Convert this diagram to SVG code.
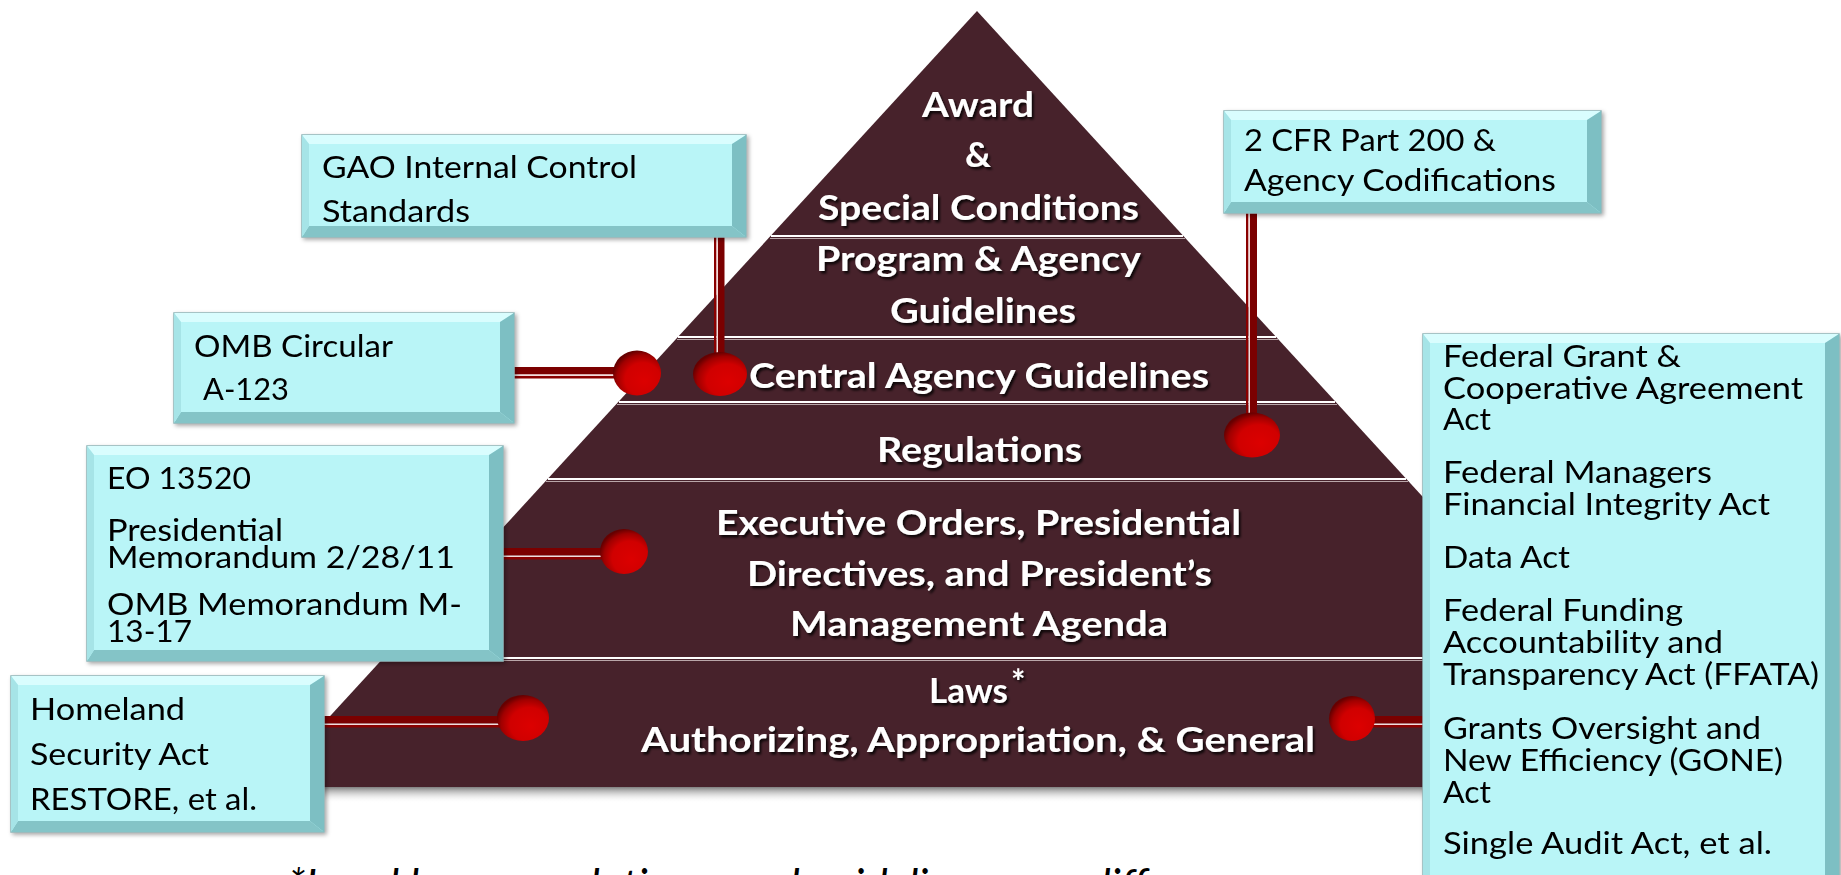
<svg xmlns="http://www.w3.org/2000/svg" width="1841" height="875" viewBox="0 0 1841 875">
<defs>
<style>
.face{fill:#b9f5f7;stroke:#8fb4b6;stroke-width:1.5}
.bt{fill:#d9fdfe}
.bl{fill:#a6e4e7}
.br{fill:#7dbfc3}
.bb{fill:#84c4c7}
.bx{font-family:"Lato","Carlito","DejaVu Sans",sans-serif;font-size:31px;fill:#000}
.py{font-family:"Lato","Carlito","DejaVu Sans",sans-serif;font-weight:bold;font-size:34px;fill:#fff}
.div1{stroke:#ffffff;stroke-width:2.2}
.div2{stroke:#b9a6a9;stroke-width:1}
.thick{fill:#7b0000}
.thin{fill:#8a0000}
.gap{fill:#f3dcdc}
.ball{fill:url(#ballg)}
</style>
<radialGradient id="ballg" cx="0.6" cy="0.62" r="0.62" fx="0.66" fy="0.68">
<stop offset="0" stop-color="#dc0000"/>
<stop offset="0.6" stop-color="#d00000"/>
<stop offset="0.85" stop-color="#a00000"/>
<stop offset="1" stop-color="#660000"/>
</radialGradient>
<linearGradient id="shadowg" x1="0" y1="0" x2="0" y2="1">
<stop offset="0" stop-color="#555" stop-opacity="0.75"/>
<stop offset="1" stop-color="#fff" stop-opacity="0"/>
</linearGradient>
<filter id="tshadow" x="-10%" y="-30%" width="120%" height="160%">
<feDropShadow dx="2" dy="2.5" stdDeviation="1.2" flood-color="#000" flood-opacity="0.8"/>
</filter>
<filter id="bshadow" x="-5%" y="-5%" width="112%" height="115%">
<feDropShadow dx="2" dy="2" stdDeviation="2" flood-color="#000" flood-opacity="0.35"/>
</filter>
</defs>
<rect width="1841" height="875" fill="#ffffff"/>

<g id="pyramid">
<rect x="265" y="787" width="1430" height="16" fill="url(#shadowg)"/>
<polygon points="977,11 1689,787 265,787" fill="#47222b"/>
<line class="div1" x1="771" y1="236" x2="1183" y2="236"/>
<line class="div2" x1="770" y1="238.5" x2="1185" y2="238.5"/>
<line class="div1" x1="678" y1="337" x2="1276" y2="337"/>
<line class="div2" x1="677" y1="339.5" x2="1278" y2="339.5"/>
<line class="div1" x1="619" y1="402" x2="1335" y2="402"/>
<line class="div2" x1="617" y1="404.5" x2="1337" y2="404.5"/>
<line class="div1" x1="548" y1="479" x2="1406" y2="479"/>
<line class="div2" x1="546" y1="481.5" x2="1408" y2="481.5"/>
<line class="div1" x1="384" y1="658" x2="1570" y2="658"/>
<line class="div2" x1="382" y1="660.5" x2="1572" y2="660.5"/>
<g filter="url(#tshadow)">
<g id="level-award">
<text class="py" x="922" y="117" textLength="112" lengthAdjust="spacingAndGlyphs" font-size="35">Award</text>
<text class="py" x="965" y="167" textLength="26" lengthAdjust="spacingAndGlyphs" font-size="35">&amp;</text>
<text class="py" x="818" y="220" textLength="321" lengthAdjust="spacingAndGlyphs" font-size="35">Special Conditions</text>
</g>
<g id="level-program">
<text class="py" x="816" y="271" textLength="325" lengthAdjust="spacingAndGlyphs">Program &amp; Agency</text>
<text class="py" x="890" y="323" textLength="186" lengthAdjust="spacingAndGlyphs">Guidelines</text>
</g>
<g id="level-central">
<text class="py" x="749" y="388" textLength="460" lengthAdjust="spacingAndGlyphs">Central Agency Guidelines</text>
</g>
<g id="level-regulations">
<text class="py" x="877" y="462" textLength="205" lengthAdjust="spacingAndGlyphs">Regulations</text>
</g>
<g id="level-executive">
<text class="py" x="716" y="535" textLength="525" lengthAdjust="spacingAndGlyphs">Executive Orders, Presidential</text>
<text class="py" x="747" y="586" textLength="465" lengthAdjust="spacingAndGlyphs">Directives, and President’s</text>
<text class="py" x="790" y="636" textLength="378" lengthAdjust="spacingAndGlyphs">Management Agenda</text>
</g>
<g id="level-laws">
<text class="py" x="929" y="703" textLength="79" lengthAdjust="spacingAndGlyphs">Laws</text>
<text class="py" x="1011" y="694" font-size="20">*</text>
<text class="py" x="641" y="752" textLength="674" lengthAdjust="spacingAndGlyphs">Authorizing, Appropriation, &amp; General</text>
</g>
</g>
</g>

<g id="connectors">
<rect class="thin" x="714" y="230" width="2.5" height="130"/>
<rect class="gap" x="716.5" y="230" width="1.5" height="130"/>
<rect class="thick" x="718" y="230" width="6.5" height="130"/>
<rect class="thin" x="1246" y="208" width="2.5" height="215"/>
<rect class="gap" x="1248.5" y="208" width="1.5" height="215"/>
<rect class="thick" x="1250" y="208" width="7" height="215"/>
<rect class="thick" x="508" y="367" width="118" height="7.5"/>
<rect class="gap" x="508" y="374.5" width="118" height="1.5"/>
<rect class="thin" x="508" y="376" width="118" height="2.5"/>
<rect class="thick" x="498" y="548" width="115" height="7.5"/>
<rect class="gap" x="498" y="555.5" width="115" height="1.5"/>
<rect class="thin" x="498" y="557" width="115" height="2.5"/>
<rect class="thick" x="318" y="716" width="195" height="7.5"/>
<rect class="gap" x="318" y="723.5" width="195" height="1.5"/>
<rect class="thin" x="318" y="725" width="195" height="2.5"/>
<rect class="thick" x="1365" y="716" width="62" height="7.5"/>
<rect class="gap" x="1365" y="723.5" width="62" height="1.5"/>
<rect class="thin" x="1365" y="725" width="62" height="2.5"/>
<ellipse class="ball" cx="720" cy="374" rx="27" ry="22"/>
<ellipse class="ball" cx="1252" cy="435" rx="28" ry="22.5"/>
<ellipse class="ball" cx="637" cy="373" rx="24" ry="22.5"/>
<ellipse class="ball" cx="624" cy="551.5" rx="24" ry="22.5"/>
<ellipse class="ball" cx="523" cy="718" rx="26" ry="23"/>
<ellipse class="ball" cx="1352" cy="718.5" rx="23" ry="22.5"/>
</g>

<g id="box-gao" filter="url(#bshadow)">
<rect class="face" x="302" y="135" width="444" height="102"/>
<polygon class="bt" points="302,135 746,135 732,144 309,144"/>
<polygon class="br" points="746,135 746,237 732,226 732,144"/>
<polygon class="bb" points="302,237 746,237 732,226 309,226"/>
<polygon class="bl" points="302,135 309,144 309,226 302,237"/>
<text class="bx" x="322" y="178" font-size="35" textLength="315" lengthAdjust="spacingAndGlyphs">GAO Internal Control</text>
<text class="bx" x="322" y="222" font-size="35" textLength="148" lengthAdjust="spacingAndGlyphs">Standards</text>
</g>

<g id="box-cfr" filter="url(#bshadow)">
<rect class="face" x="1224" y="111" width="377" height="102"/>
<polygon class="bt" points="1224,111 1601,111 1587,120 1231,120"/>
<polygon class="br" points="1601,111 1601,213 1587,202 1587,120"/>
<polygon class="bb" points="1224,213 1601,213 1587,202 1231,202"/>
<polygon class="bl" points="1224,111 1231,120 1231,202 1224,213"/>
<text class="bx" x="1244" y="151" textLength="252" lengthAdjust="spacingAndGlyphs">2 CFR Part 200 &amp;</text>
<text class="bx" x="1244" y="191" textLength="312" lengthAdjust="spacingAndGlyphs">Agency Codifications</text>
</g>

<g id="box-omb" filter="url(#bshadow)">
<rect class="face" x="174" y="313" width="340" height="110"/>
<polygon class="bt" points="174,313 514,313 500,322 181,322"/>
<polygon class="br" points="514,313 514,423 500,412 500,322"/>
<polygon class="bb" points="174,423 514,423 500,412 181,412"/>
<polygon class="bl" points="174,313 181,322 181,412 174,423"/>
<text class="bx" x="194" y="357" font-size="30" textLength="199" lengthAdjust="spacingAndGlyphs">OMB Circular</text>
<text class="bx" x="203" y="400" font-size="30" textLength="86" lengthAdjust="spacingAndGlyphs">A-123</text>
</g>

<g id="box-eo" filter="url(#bshadow)">
<rect class="face" x="87" y="446" width="416" height="215"/>
<polygon class="bt" points="87,446 503,446 489,455 94,455"/>
<polygon class="br" points="503,446 503,661 489,650 489,455"/>
<polygon class="bb" points="87,661 503,661 489,650 94,650"/>
<polygon class="bl" points="87,446 94,455 94,650 87,661"/>
<text class="bx" x="107" y="489" textLength="144" lengthAdjust="spacingAndGlyphs">EO 13520</text>
<text class="bx" x="107" y="541" textLength="176" lengthAdjust="spacingAndGlyphs">Presidential</text>
<text class="bx" x="107" y="568" textLength="348" lengthAdjust="spacingAndGlyphs">Memorandum 2/28/11</text>
<text class="bx" x="107" y="615" textLength="355" lengthAdjust="spacingAndGlyphs">OMB Memorandum M-</text>
<text class="bx" x="107" y="642" textLength="85" lengthAdjust="spacingAndGlyphs">13-17</text>
</g>

<g id="box-homeland" filter="url(#bshadow)">
<rect class="face" x="11" y="676" width="313" height="156"/>
<polygon class="bt" points="11,676 324,676 310,685 18,685"/>
<polygon class="br" points="324,676 324,832 310,821 310,685"/>
<polygon class="bb" points="11,832 324,832 310,821 18,821"/>
<polygon class="bl" points="11,676 18,685 18,821 11,832"/>
<text class="bx" x="30" y="720" font-size="32" textLength="155" lengthAdjust="spacingAndGlyphs">Homeland</text>
<text class="bx" x="30" y="765" font-size="32" textLength="179" lengthAdjust="spacingAndGlyphs">Security Act</text>
<text class="bx" x="30" y="810" font-size="32" textLength="227" lengthAdjust="spacingAndGlyphs">RESTORE, et al.</text>
</g>

<g id="box-federal" filter="url(#bshadow)">
<rect class="face" x="1423" y="334" width="416" height="560"/>
<polygon class="bt" points="1423,334 1839,334 1825,343 1430,343"/>
<polygon class="br" points="1839,334 1839,894 1825,894 1825,343"/>
<polygon class="bl" points="1423,334 1430,343 1430,894 1423,894"/>
<text class="bx" x="1443" y="367" textLength="238" lengthAdjust="spacingAndGlyphs">Federal Grant &amp;</text>
<text class="bx" x="1443" y="399" textLength="360" lengthAdjust="spacingAndGlyphs">Cooperative Agreement</text>
<text class="bx" x="1443" y="430" textLength="48" lengthAdjust="spacingAndGlyphs">Act</text>
<text class="bx" x="1443" y="483" textLength="269" lengthAdjust="spacingAndGlyphs">Federal Managers</text>
<text class="bx" x="1443" y="515" textLength="327" lengthAdjust="spacingAndGlyphs">Financial Integrity Act</text>
<text class="bx" x="1443" y="568" textLength="127" lengthAdjust="spacingAndGlyphs">Data Act</text>
<text class="bx" x="1443" y="621" textLength="240" lengthAdjust="spacingAndGlyphs">Federal Funding</text>
<text class="bx" x="1443" y="653" textLength="280" lengthAdjust="spacingAndGlyphs">Accountability and</text>
<text class="bx" x="1443" y="685" textLength="376" lengthAdjust="spacingAndGlyphs">Transparency Act (FFATA)</text>
<text class="bx" x="1443" y="739" textLength="318" lengthAdjust="spacingAndGlyphs">Grants Oversight and</text>
<text class="bx" x="1443" y="771" textLength="340" lengthAdjust="spacingAndGlyphs">New Efficiency (GONE)</text>
<text class="bx" x="1443" y="803" textLength="48" lengthAdjust="spacingAndGlyphs">Act</text>
<text class="bx" x="1443" y="854" textLength="329" lengthAdjust="spacingAndGlyphs">Single Audit Act, et al.</text>
</g>

<g id="footnote">
<text x="288" y="902" font-family="Lato, Carlito, 'DejaVu Sans', sans-serif" font-style="italic" font-size="46" fill="#000" textLength="895" lengthAdjust="spacingAndGlyphs">*Local laws, regulations, and guidelines may differ</text>
</g>
</svg>
